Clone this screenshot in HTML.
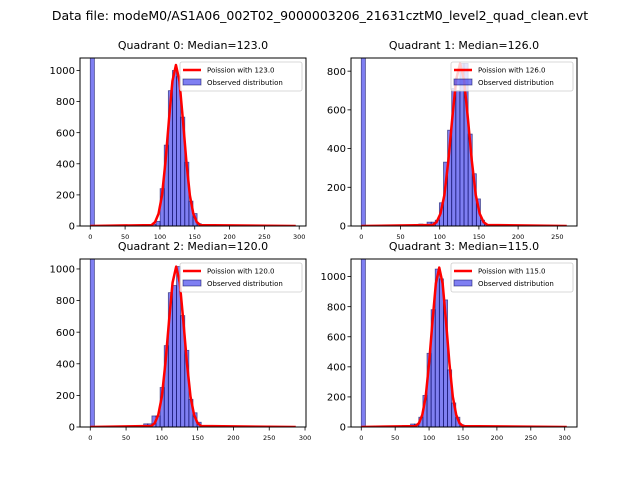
<!DOCTYPE html>
<html><head><meta charset="utf-8"><style>
body{margin:0;background:#fff}
svg{display:block;font-family:"DejaVu Sans","Liberation Sans",sans-serif}
</style></head><body>
<svg id="c" width="640" height="480">
<text x="320" y="20" font-size="12.5" text-anchor="middle">Data file: modeM0/AS1A06_002T02_9000003206_21631cztM0_level2_quad_clean.evt</text>
</svg>
<script>
const medians=[123.0,126.0,120.0,115.0];
const xMax=[295,262,287,303];
const yMax=[1080,868,1063,1117];
const yTicks=[[0,200,400,600,800,1000],[0,200,400,600,800],[0,200,400,600,800,1000],[0,200,400,600,800,1000]];
const xTicks=[[0,50,100,150,200,250,300],[0,50,100,150,200,250],[0,50,100,150,200,250,300],[0,50,100,150,200,250,300]];
const bin0Left=[82.6,73.4,74.6,60.6];
const binW=[5.9,5.24,5.74,6.06];
const zeroBin=[5000,5000,5000,5000];
const q0Counts=[2,10,30,240,520,870,1000,960,700,410,160,80,15,3];
const q1Counts=[10,0,20,20,30,120,330,495,710,700,840,840,475,270,140,30,8];
const q2Counts=[20,20,70,70,250,515,850,895,1015,705,485,175,90,30,8];
const q3Counts=[10,10,20,20,65,210,490,780,1050,985,845,380,160,65,15];
const counts=[q0Counts,q1Counts,q2Counts,q3Counts];
const curveOffsets=[-35,-30,-25,-20,-15,-10,-5,0,5,10,15,20,25,30,35];
const q0Curve=[6,25,79,197,414,683,932,1035,932,683,414,197,79,25,6];
const q1Curve=[5,20,64,160,336,554,756,840,756,554,336,160,64,20,5];
const q2Curve=[6,24,77,193,406,670,914,1015,914,670,406,193,77,24,6];
const q3Curve=[6,25,81,201,424,700,954,1060,954,700,424,201,81,25,6];
const curves=[q0Curve,q1Curve,q2Curve,q3Curve];

const svg=document.getElementById('c');
const NS='http://www.w3.org/2000/svg';
function mk(tag,attrs,parent){const e=document.createElementNS(NS,tag);for(const k in attrs)e.setAttribute(k,attrs[k]);(parent||svg).appendChild(e);return e;}
const boxes=[[80,58,306,226],[351,58,577,226],[80,259,306,427],[351,259,577,427]];
for(let q=0;q<4;q++){
  const [L,T,R,B]=boxes[q];
  const xmin=-xMax[q]*0.05, xmax=xMax[q]*1.05;
  const X=v=>L+(v-xmin)/(xmax-xmin)*(R-L);
  const Y=v=>B-v/yMax[q]*(B-T);
  const g=mk('g',{});
  
  
  const cp=mk('clipPath',{id:'cp'+q},g);
  mk('rect',{x:L,y:T,width:R-L,height:B-T},cp);
  const plot=mk('g',{'clip-path':'url(#cp'+q+')'},g);
  const zb=mk('rect',{x:X(0),y:Y(zeroBin[q]),width:X(binW[q])-X(0),height:Y(0)-Y(zeroBin[q]),fill:'rgba(0,0,230,0.5)',stroke:'rgba(0,0,80,0.6)','stroke-width':0.8},plot);
  
  
  counts[q].forEach((c,i)=>{
    const l=bin0Left[q]+i*binW[q];
    const r=mk('rect',{x:X(l),y:Y(c),width:X(l+binW[q])-X(l),height:Y(0)-Y(c),fill:'rgba(0,0,230,0.5)',stroke:'rgba(0,0,80,0.6)','stroke-width':0.8},plot);
    
    
  });
  const m=medians[q];
  let pts=[[0,0]];
  curveOffsets.forEach((o,i)=>pts.push([m+o,curves[q][i]]));
  pts.push([xMax[q],0]);
  const pl=mk('polyline',{points:pts.map(p=>X(p[0])+','+Y(p[1])).join(' '),fill:'none',stroke:'#ff0000','stroke-width':2.5,'stroke-linejoin':'round'},plot);
  
  
  mk('rect',{x:L,y:T,width:R-L,height:B-T,fill:'none',stroke:'#000','stroke-width':1},g);
  xTicks[q].forEach(v=>{
    mk('line',{x1:X(v),x2:X(v),y1:B,y2:B+3.5,stroke:'#000','stroke-width':0.8},g);
    const t=mk('text',{x:X(v),y:B+13,'font-size':6.5,'text-anchor':'middle'},g);t.textContent=v;
    
    
  });
  yTicks[q].forEach(v=>{
    mk('line',{x1:L-3.5,x2:L,y1:Y(v),y2:Y(v),stroke:'#000','stroke-width':0.8},g);
    const t=mk('text',{x:L-5,y:Y(v)+3.6,'font-size':10,'text-anchor':'end'},g);t.textContent=v;
    
    
  });
  const tt=mk('text',{x:(L+R)/2,y:T-9,'font-size':11,'text-anchor':'middle'},g);
  tt.textContent='Quadrant '+q+': Median='+m.toFixed(1);
  
  
  const lg=mk('g',{},g);
  
  
  const lx=R-126,ly=T+4;
  mk('rect',{x:lx,y:ly,width:122,height:29,rx:2,fill:'rgba(255,255,255,0.8)',stroke:'#ccc','stroke-width':0.8},lg);
  mk('line',{x1:lx+3,x2:lx+21,y1:ly+8,y2:ly+8,stroke:'#ff0000','stroke-width':2.5},lg);
  mk('rect',{x:lx+3,y:ly+17,width:18,height:6,fill:'rgba(0,0,230,0.5)',stroke:'rgba(0,0,80,0.6)','stroke-width':0.8},lg);
  const l1=mk('text',{x:lx+27,y:ly+10.5,'font-size':7},lg);l1.textContent='Poission with '+m.toFixed(1);
  const l2=mk('text',{x:lx+27,y:ly+23,'font-size':7},lg);l2.textContent='Observed distribution';
}
</script>
</body></html>
